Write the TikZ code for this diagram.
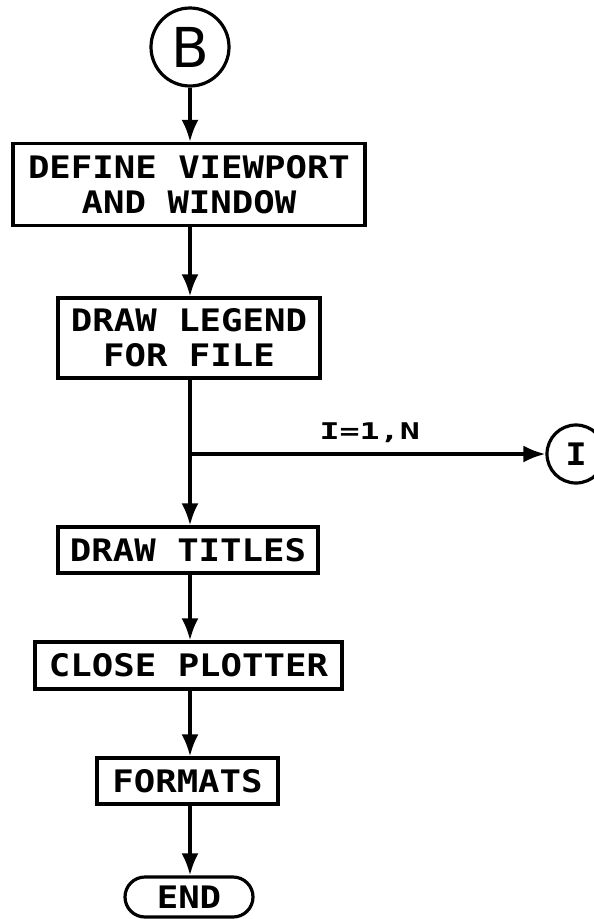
\documentclass[tikz,border=0pt]{standalone}
\usepackage{fontspec}
\newfontfamily\plotfont{DejaVu Sans Mono}[FakeStretch=1.15]
\newfontfamily\labelfont{DejaVu Sans Mono}[FakeStretch=1.45]
\newfontfamily\circfont{DejaVu Sans}
\usetikzlibrary{arrows.meta,shapes.misc}
\begin{document}
\begin{tikzpicture}[x=1pt,y=1pt,
  every node/.style={font=\plotfont\bfseries\fontsize{31}{35}\selectfont, inner sep=0pt, line width=3.2pt},
  boxnode/.style={draw, rectangle, align=center},
  conn/.style={line width=3.4pt, -{Latex[length=22pt,width=17pt]}}]
\useasboundingbox (0,0) rectangle (594,-919);
\fill[white] (0,0) rectangle (594,-919);
\node[draw, circle, minimum size=78pt, font=\circfont\fontsize{55}{60}\selectfont] (B) at (190,-47) {B};
\node[boxnode, minimum width=352pt, minimum height=82pt] (box1) at (189,-184.5) {DEFINE VIEWPORT\\AND WINDOW};
\node[boxnode, minimum width=262pt, minimum height=80pt] (box2) at (189,-338) {DRAW LEGEND\\FOR FILE};
\node[draw, circle, minimum size=58pt] (Ic) at (576,-454) {I};
\node[boxnode, minimum width=260pt, minimum height=46pt] (box3) at (188,-550) {DRAW TITLES};
\node[boxnode, minimum width=307pt, minimum height=47pt] (box4) at (188.5,-665.5) {CLOSE PLOTTER};
\node[boxnode, minimum width=181pt, minimum height=46pt] (box5) at (187.5,-781) {FORMATS};
\node[draw, rounded rectangle, minimum width=128pt, minimum height=40pt] (endn) at (189,-897) {END};
\coordinate (j) at (190,-454);
\draw[conn] (B.south) -- (B.south |- box1.north);
\draw[conn] (B.south |- box1.south) -- (B.south |- box2.north);
\draw[conn] (B.south |- box2.south) -- (B.south |- box3.north);
\draw[conn] (j) -- node[above=10pt, xshift=2pt, font=\labelfont\bfseries\fontsize{23}{25}\selectfont] {I=1,N} (Ic.west);
\draw[conn] (B.south |- box3.south) -- (B.south |- box4.north);
\draw[conn] (B.south |- box4.south) -- (B.south |- box5.north);
\draw[conn] (B.south |- box5.south) -- (B.south |- endn.north);
\end{tikzpicture}
\end{document}
